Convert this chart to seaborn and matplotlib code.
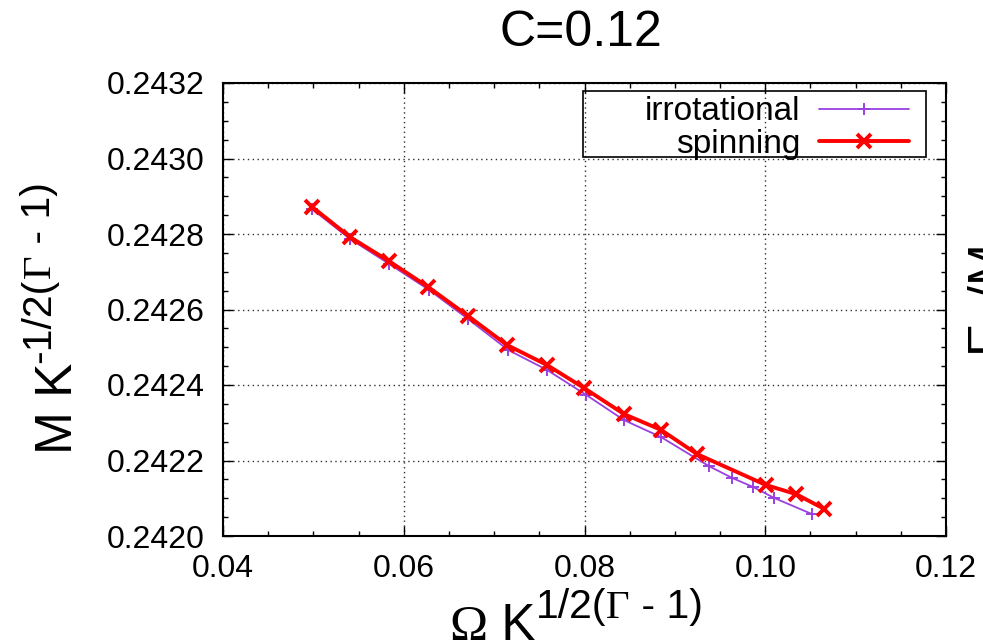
import matplotlib
matplotlib.use("Agg")
import matplotlib.pyplot as plt
from matplotlib.patches import Rectangle
from matplotlib.ticker import MultipleLocator
import pandas as pd
import seaborn as sns

# values
irrot_omega = [0.04985, 0.05405, 0.05837, 0.06279, 0.06711, 0.07154, 0.07585, 0.08017,
               0.08437, 0.08847, 0.09378, 0.09632, 0.09864, 0.10097, 0.10517]
irrot_mass = [0.242866, 0.242787, 0.242721, 0.242652, 0.242575, 0.242493, 0.242440, 0.242374,
              0.242307, 0.242262, 0.242185, 0.242154, 0.242130, 0.242101, 0.242058]
spin_omega = [0.04985, 0.05405, 0.05837, 0.06268, 0.06711, 0.07142, 0.07585, 0.07995,
              0.08437, 0.08847, 0.09245, 0.10008, 0.10340, 0.10650]
spin_mass = [0.242872, 0.242792, 0.242728, 0.242660, 0.242583, 0.242506, 0.242453, 0.242392,
             0.242323, 0.242281, 0.242217, 0.242135, 0.242111, 0.242072]

x_ticks = [0.04, 0.06, 0.08, 0.10, 0.12]
x_labels = ["0.04", "0.06", "0.08", "0.10", "0.12"]
y_ticks = [0.2420, 0.2422, 0.2424, 0.2426, 0.2428, 0.2430, 0.2432]
y_labels = ["0.2420", "0.2422", "0.2424", "0.2426", "0.2428", "0.2430", "0.2432"]

W, H = 983, 643
SANS = ["Liberation Sans", "DejaVu Sans"]
SERIF = ["Liberation Serif", "DejaVu Serif"]
BASE, SUP, LIFT = 37, 29.5, 22

sns.set_theme(style="ticks")
plt.rcParams["font.family"] = SANS
for key in ["text.color", "axes.labelcolor", "xtick.color", "ytick.color"]:
    plt.rcParams[key] = "black"

fig = plt.figure(figsize=(W / 100, H / 100), dpi=100)
ax = fig.add_axes([223 / W, 1 - 536 / H, (946 - 223) / W, (536 - 83) / H])

irrot = pd.DataFrame({"omega": irrot_omega, "mass": irrot_mass})
spin = pd.DataFrame({"omega": spin_omega, "mass": spin_mass})

sns.lineplot(data=irrot, x="omega", y="mass", ax=ax, sort=False, estimator=None,
             color="#9a40e0", linewidth=1.3, marker="+", markersize=9,
             markeredgewidth=1.4, markeredgecolor="#9a40e0", label="irrotational")
sns.lineplot(data=spin, x="omega", y="mass", ax=ax, sort=False, estimator=None,
             color="#ff0000", linewidth=2.8, marker="x", markersize=10.5,
             markeredgewidth=2.8, markeredgecolor="#ff0000", label="spinning")

ax.set_xlim(0.04, 0.12)
ax.set_ylim(0.2420, 0.2432)
ax.set_xticks(x_ticks, x_labels)
ax.set_yticks(y_ticks, y_labels)
ax.xaxis.set_minor_locator(MultipleLocator(0.005))
ax.yaxis.set_minor_locator(MultipleLocator(0.00005))
ax.tick_params(which="both", direction="in", top=True, right=True, color="black", width=1)
ax.tick_params(which="major", length=7, labelsize=23, pad=13)
ax.tick_params(which="minor", length=3.5)
ax.grid(True, which="major", linestyle=(0, (1, 2.5)), color="#303030", linewidth=1)
for sp in ax.spines.values():
    sp.set_visible(True)
    sp.set_color("black")
    sp.set_linewidth(1.5)
ax.set_xlabel("")
ax.set_ylabel("")

# gnuplot-style key: text right-aligned, sample to the right
ax.legend(loc="upper right", bbox_to_anchor=(912 / W, 1 - 93 / H),
          bbox_transform=fig.transFigure, borderaxespad=0, frameon=False,
          markerfirst=False, fontsize=24, handlelength=2.7, handletextpad=0.55,
          labelspacing=0.05, borderpad=0.1, numpoints=1)
fig.patches.append(Rectangle((583 / W, 1 - 157 / H), (926 - 583) / W, (157 - 91) / H,
                             transform=fig.transFigure, fill=False, edgecolor="black",
                             linewidth=1.2, zorder=5))

fig.text(581 / W, 1 - 33 / H, "C=0.12", fontsize=36, ha="center", va="center")


def label_pieces(pieces, center, base, rotation=0):
    """Lay out (text, size, family, raise_px) pieces end to end, gnuplot enhanced-text style."""
    renderer = fig.canvas.get_renderer()
    texts, widths = [], []
    for s, size, family, _ in pieces:
        t = fig.text(0, 0, s, fontsize=size, family=family, rotation=rotation,
                     ha="left", va="baseline", rotation_mode="anchor")
        bb = t.get_window_extent(renderer)
        widths.append(bb.height if rotation else bb.width)
        texts.append(t)
    pos = center - sum(widths) / 2
    for t, w, (_, _, _, lift) in zip(texts, widths, pieces):
        if rotation:
            t.set_position(((base - lift) / W, pos / H))
        else:
            t.set_position((pos / W, (base + lift) / H))
        pos += w


label_pieces([("Ω", BASE, SERIF, 0), (" K", BASE, SANS, 0),
              ("1/2(", SUP, SANS, LIFT), ("Γ", SUP, SERIF, LIFT), (" - 1)", SUP, SANS, LIFT)],
             center=576, base=H - 640)
label_pieces([("M K", BASE, SANS, 0),
              ("-1/2(", SUP, SANS, LIFT), ("Γ", SUP, SERIF, LIFT), (" - 1)", SUP, SANS, LIFT)],
             center=H - 318, base=72, rotation=90)

# label of the neighbouring panel, cut by the figure edge
fig.text(967 / W, 1 - 357 / H, r"E$_{\text{b}}$/M", fontsize=36,
         ha="left", va="bottom", rotation=90)

fig.savefig("out.png", dpi=100)
